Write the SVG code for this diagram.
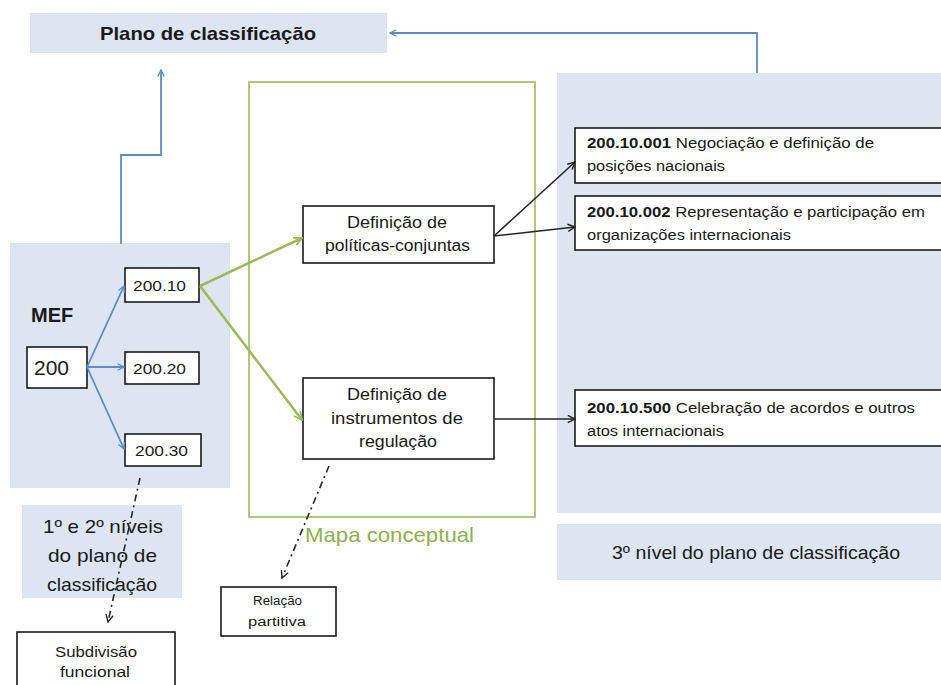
<svg xmlns="http://www.w3.org/2000/svg" width="941" height="685" viewBox="0 0 941 685">
<style>
text{font-family:"Liberation Sans",Arial,sans-serif;fill:#1a1a1a}
.panel{fill:#dce5f1}
.box{fill:#fff;stroke:#1a1a1a;stroke-width:1.6}
.blue{fill:none;stroke:#5b8bc9;stroke-width:1.8}
.green{fill:none;stroke:#9bbb59;stroke-width:2.5}
.black{fill:none;stroke:#262626;stroke-width:1.6}
.dash{fill:none;stroke:#262626;stroke-width:1.6;stroke-dasharray:7 4 2 4}
.c{text-anchor:middle}
</style>
<defs>
<marker id="ab" viewBox="0 0 10 10" refX="9" refY="5" markerWidth="8" markerHeight="8" orient="auto" markerUnits="userSpaceOnUse"><path d="M1,1 L9,5 L1,9" fill="none" stroke="#5b8bc9" stroke-width="1.6"/></marker>
<marker id="ag" viewBox="0 0 10 10" refX="9" refY="5" markerWidth="10" markerHeight="10" orient="auto" markerUnits="userSpaceOnUse"><path d="M1,1 L9,5 L1,9" fill="none" stroke="#9bbb59" stroke-width="1.8"/></marker>
<marker id="ak" viewBox="0 0 10 10" refX="9" refY="5" markerWidth="9" markerHeight="9" orient="auto" markerUnits="userSpaceOnUse"><path d="M1,1 L9,5 L1,9" fill="none" stroke="#262626" stroke-width="1.6"/></marker>
</defs>

<g id="plano">
<rect class="panel" x="30" y="13" width="357" height="40"/>
<text x="100" y="40" font-size="19" font-weight="bold" textLength="216" lengthAdjust="spacingAndGlyphs">Plano de classificação</text>
</g>

<g id="mef-panel">
<rect class="panel" x="10" y="243" width="220" height="245"/>
<text x="31" y="322" font-size="20" font-weight="bold">MEF</text>
</g>

<g id="niveis12">
<rect class="panel" x="22" y="505" width="160" height="93"/>
<text x="43" y="533" font-size="19" textLength="120" lengthAdjust="spacingAndGlyphs">1º e 2º níveis</text>
<text x="48" y="562" font-size="19" textLength="109" lengthAdjust="spacingAndGlyphs">do plano de</text>
<text x="47" y="591" font-size="19" textLength="110" lengthAdjust="spacingAndGlyphs">classificação</text>
</g>

<g id="right-panel">
<rect class="panel" x="557" y="73" width="384" height="440"/>
</g>
<g id="niveis3">
<rect class="panel" x="557" y="524" width="384" height="56"/>
<text x="612" y="559" font-size="18.5" textLength="288" lengthAdjust="spacingAndGlyphs">3º nível do plano de classificação</text>
</g>

<g id="mapa">
<rect x="249" y="82" width="286" height="435" fill="none" stroke="#9bbb59" stroke-width="1.6"/>
<text x="305" y="542" font-size="21" textLength="169" lengthAdjust="spacingAndGlyphs" style="fill:#8fb050">Mapa conceptual</text>
</g>

<g id="n200">
<rect class="box" x="27" y="347" width="60" height="41"/>
<text x="34" y="375" font-size="21">200</text>
</g>
<g id="n200-10">
<rect class="box" x="125" y="268" width="74" height="34"/>
<text x="133" y="291" font-size="15" textLength="53" lengthAdjust="spacingAndGlyphs">200.10</text>
</g>
<g id="n200-20">
<rect class="box" x="125" y="352" width="74" height="32"/>
<text x="133" y="374" font-size="15" textLength="53" lengthAdjust="spacingAndGlyphs">200.20</text>
</g>
<g id="n200-30">
<rect class="box" x="125" y="434" width="76" height="32"/>
<text x="135" y="456" font-size="15" textLength="53" lengthAdjust="spacingAndGlyphs">200.30</text>
</g>

<g id="def-politicas">
<rect class="box" x="303" y="206" width="191" height="57"/>
<text x="347" y="228" font-size="16" textLength="100" lengthAdjust="spacingAndGlyphs">Definição de</text>
<text x="325" y="251" font-size="16" textLength="145" lengthAdjust="spacingAndGlyphs">políticas-conjuntas</text>
</g>
<g id="def-instrumentos">
<rect class="box" x="303" y="378" width="191" height="81"/>
<text x="347" y="400" font-size="16" textLength="100" lengthAdjust="spacingAndGlyphs">Definição de</text>
<text x="331" y="424" font-size="16" textLength="132" lengthAdjust="spacingAndGlyphs">instrumentos de</text>
<text x="359" y="447" font-size="16" textLength="78" lengthAdjust="spacingAndGlyphs">regulação</text>
</g>

<g id="c001">
<rect class="box" x="575" y="128" width="370" height="55"/>
<text x="587" y="148" font-size="14" textLength="287" lengthAdjust="spacingAndGlyphs"><tspan font-weight="bold">200.10.001</tspan> Negociação e definição de</text>
<text x="587" y="171" font-size="14" textLength="138" lengthAdjust="spacingAndGlyphs">posições nacionais</text>
</g>
<g id="c002">
<rect class="box" x="575" y="196" width="370" height="54"/>
<text x="587" y="217" font-size="14" textLength="338" lengthAdjust="spacingAndGlyphs"><tspan font-weight="bold">200.10.002</tspan> Representação e participação em</text>
<text x="587" y="240" font-size="14" textLength="204" lengthAdjust="spacingAndGlyphs">organizações internacionais</text>
</g>
<g id="c500">
<rect class="box" x="575" y="390" width="370" height="56"/>
<text x="587" y="413" font-size="14" textLength="328" lengthAdjust="spacingAndGlyphs"><tspan font-weight="bold">200.10.500</tspan> Celebração de acordos e outros</text>
<text x="587" y="436" font-size="14" textLength="137" lengthAdjust="spacingAndGlyphs">atos internacionais</text>
</g>

<g id="subdivisao">
<rect class="box" x="17" y="632" width="158" height="60"/>
<text x="55" y="657" font-size="15" textLength="82" lengthAdjust="spacingAndGlyphs">Subdivisão</text>
<text x="60" y="677" font-size="15" textLength="70" lengthAdjust="spacingAndGlyphs">funcional</text>
</g>
<g id="relacao">
<rect class="box" x="221" y="587" width="115" height="49"/>
<text x="253" y="605" font-size="12.5" textLength="49" lengthAdjust="spacingAndGlyphs">Relação</text>
<text x="248" y="626" font-size="12.5" textLength="58" lengthAdjust="spacingAndGlyphs">partitiva</text>
</g>

<g id="connectors">
<polyline class="blue" points="757,73 757,33 390,33" marker-end="url(#ab)"/>
<polyline class="blue" points="121,244 121,155 161,155 161,70" marker-end="url(#ab)"/>
<line class="blue" x1="87" y1="367" x2="124" y2="286" marker-end="url(#ab)"/>
<line class="blue" x1="87" y1="367" x2="124" y2="367" marker-end="url(#ab)"/>
<line class="blue" x1="87" y1="367" x2="124" y2="449" marker-end="url(#ab)"/>
<line class="green" x1="200" y1="286" x2="302" y2="238" marker-end="url(#ag)"/>
<line class="green" x1="200" y1="286" x2="302" y2="420" marker-end="url(#ag)"/>
<line class="black" x1="494" y1="236" x2="575" y2="162" marker-end="url(#ak)"/>
<line class="black" x1="494" y1="236" x2="575" y2="227" marker-end="url(#ak)"/>
<line class="black" x1="494" y1="419" x2="575" y2="419" marker-end="url(#ak)"/>
<line class="dash" x1="140" y1="478" x2="108" y2="622" marker-end="url(#ak)"/>
<line class="dash" x1="329" y1="466" x2="282" y2="578" marker-end="url(#ak)"/>
</g>
</svg>
